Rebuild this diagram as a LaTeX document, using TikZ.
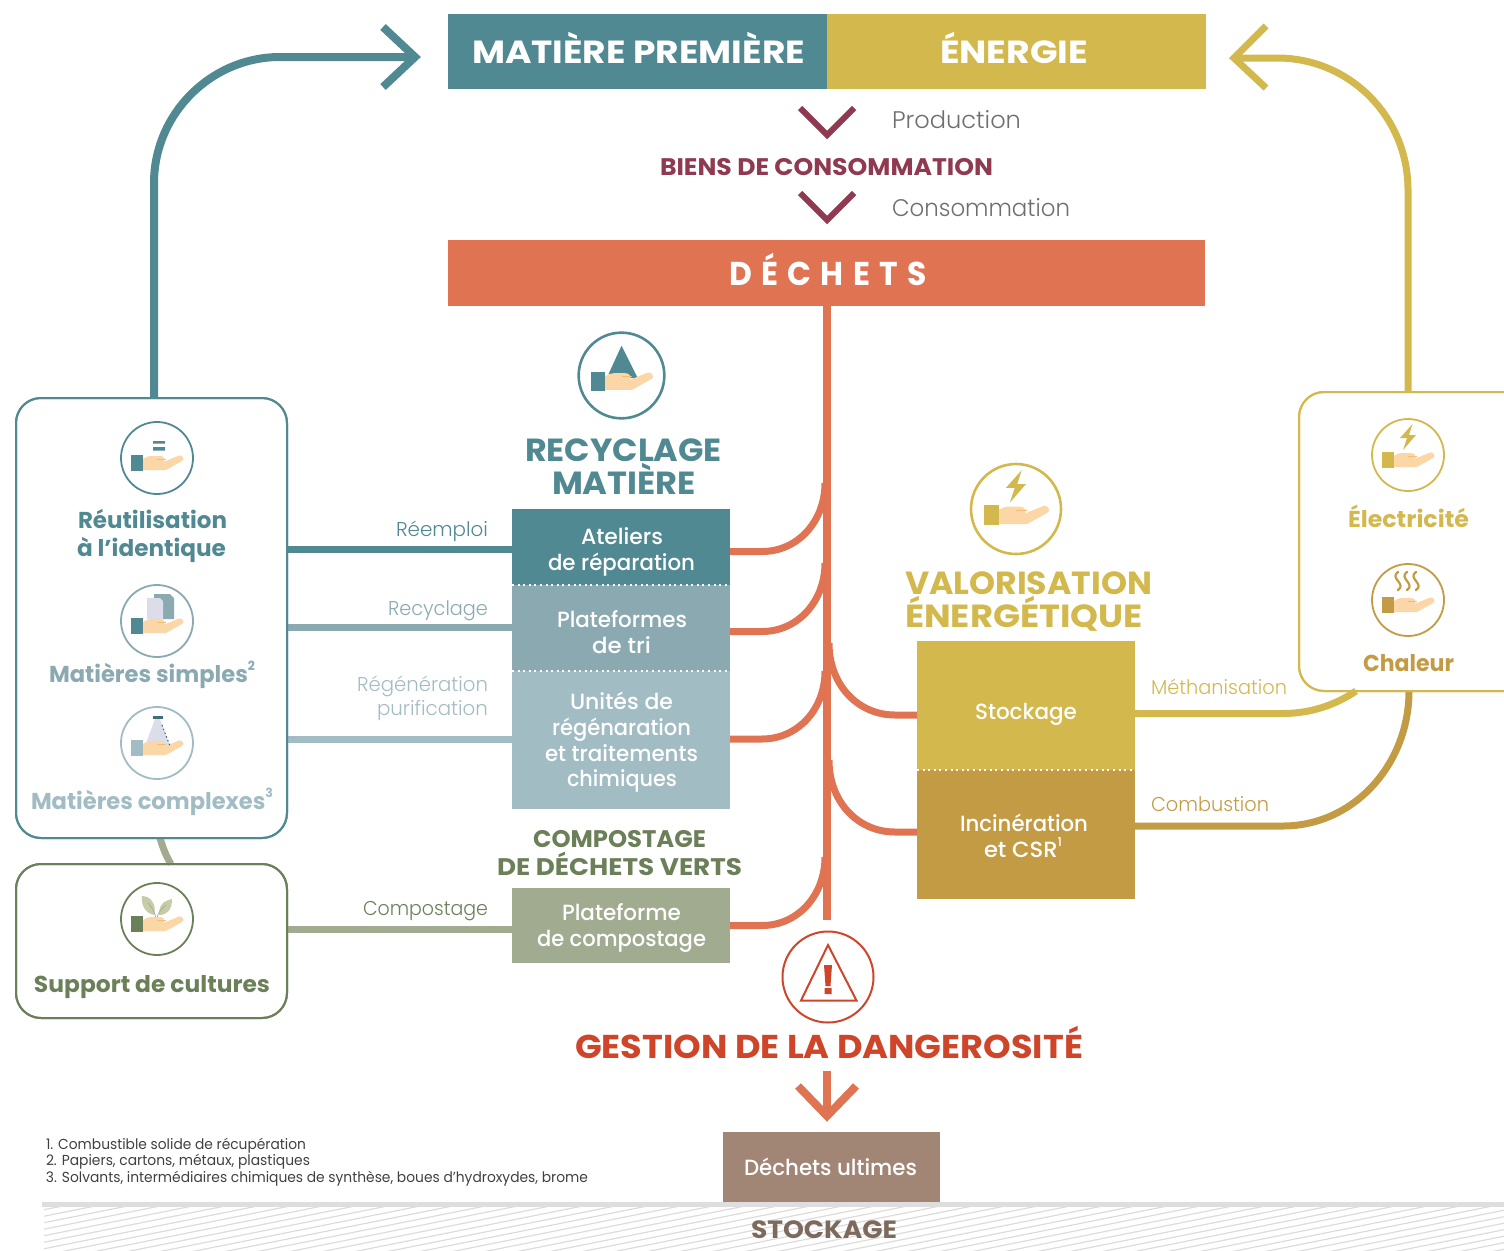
\documentclass[tikz,border=0pt]{standalone}
\usepackage{fontspec}
\usepackage{graphicx}
\setmainfont{Poppins Medium}[BoldFont={Poppins Bold}]
\newfontfamily\plight{Poppins Light}
\newfontfamily\preg{Poppins}
\usetikzlibrary{calc}
\definecolor{teal1}{HTML}{518993}
\definecolor{teal2}{HTML}{8BA9B1}
\definecolor{teal3}{HTML}{A2BCC4}
\definecolor{gold1}{HTML}{D2B84D}
\definecolor{gold2}{HTML}{C49B45}
\definecolor{orangeA}{HTML}{E07352}
\definecolor{redA}{HTML}{CE4529}
\definecolor{greenD}{HTML}{6B8059}
\definecolor{greenL}{HTML}{A0AB90}
\definecolor{brownA}{HTML}{A28675}
\definecolor{brownD}{HTML}{7E6A5C}
\definecolor{maroon}{HTML}{8F3A50}
\definecolor{grayT}{HTML}{6D6E70}
\definecolor{peach}{HTML}{FBD7A8}
\definecolor{peachD}{HTML}{F5BE6F}
\definecolor{lav}{HTML}{DCDDE8}
\definecolor{leaf}{HTML}{C5CDA8}
\newsavebox\lbox
\newcommand\fsr[1]{\fontsize{#1}{#1}\selectfont}
\newcommand\fsl[1]{\plight\fontsize{#1}{#1}\selectfont}
\newcommand\fsn[1]{\preg\fontsize{#1}{#1}\selectfont}
\newcommand\fsb[1]{\fontsize{#1}{#1}\selectfont\bfseries}
\newcommand\sups[1]{\raisebox{0.5em}{\fontsize{0.55em}{0.55em}\selectfont #1}}
% name, left, right, baseline, font, colour, text
\newcommand\lab[7]{%
  \pgfmathsetmacro\lcx{(#2+#3)/2}%
  \node[anchor=base,inner sep=0pt,text=#6] (#1) at (\lcx,#4) {\sbox\lbox{#5#7}\pgfmathsetmacro\lf{(#3-#2)/\the\wd\lbox}\scalebox{\lf}[1]{\usebox\lbox}};}
\newcommand\hand[1]{%
  \fill[peach] (-14,1) .. controls (-11,-1) and (-9,-2) .. (-6,-2) -- (3,-2) .. controls (7,-2) and (8,1) .. (7.5,3.5) -- (22,-2.5) .. controls (26,-3.5) and (28,2) .. (25,3) -- (9,12) -- (-14,12) -- cycle;
  \draw[peachD,line width=1pt] (0,1) -- (9,1);
  \fill[#1] (-26,-3) rectangle (-14,13);}
\tikzset{
  x=1pt,y=-1pt,
  band/.style={rectangle,inner sep=0pt,outer sep=0pt,minimum width=#1},
  wire/.style={line width=#1,line cap=butt},
  wire/.default=7pt,
  soft/.style={rectangle,rounded corners=25pt,fill=white,line width=2pt,inner sep=0pt,outer sep=0pt},
  ring/.style={draw=#1,line width=1.8pt,fill=white}
}
\begin{document}
\begin{tikzpicture}
\useasboundingbox (0,0) rectangle (1504,1250);
% ---- boxes
\node[band=379pt,minimum height=75pt,fill=teal1] (mp) at (637.5,51.5) {};
\node[band=379pt,minimum height=75pt,fill=gold1] (en) at (1016.5,51.5) {};
\node[band=757pt,minimum height=66pt,fill=orangeA] (de) at (826.5,273) {};
\node[soft,draw=teal1,minimum width=271pt,minimum height=440pt] (bleft) at (151.5,618) {};
\node[soft,draw=greenD,minimum width=271pt,minimum height=154pt] (bgreen) at (151.5,941) {};
\node[soft,draw=gold1,minimum width=231pt,minimum height=299pt] (bright) at (1414.5,541.5) {};
\node[band=218pt,minimum height=76pt,fill=teal1] (atel) at (621,547) {};
\node[band=218pt,minimum height=86pt,fill=teal2] (plat) at (621,628) {};
\node[band=218pt,minimum height=138pt,fill=teal3] (unit) at (621,740) {};
\node[band=218pt,minimum height=75pt,fill=greenL] (comp) at (621,925.5) {};
\node[band=218pt,minimum height=129pt,fill=gold1] (stock) at (1026,705.5) {};
\node[band=218pt,minimum height=129pt,fill=gold2] (inci) at (1026,834.5) {};
% ---- named points on the trunk and outer ends
\coordinate (tA) at (825,483);
\coordinate (tB) at (825,563);
\coordinate (tC) at (825,671);
\coordinate (tD) at (825,857);
\coordinate (tE) at (829,643);
\coordinate (tF) at (829,760);
\coordinate (trunkEnd) at (827,920);
% ---- connectors
\draw[wire=8pt,teal1] (bleft.north -| 154,0) -- (154,183) .. controls (154,114) and (211,57) .. (280,57) -- (415,57);
\draw[wire=8pt,line join=miter,teal1] (383,27) -- (415,57) -- (383,87);
\draw[wire,gold1] (bright.north -| 1408,0) -- (1408,190) .. controls (1408,117) and (1350,58) .. (1277,58) -- (1236,58);
\draw[wire,line join=miter,gold1] (1266,26) -- (1234,58) -- (1266,88);
\draw[wire=8pt,orangeA] (de.south -| trunkEnd) -- (trunkEnd);
\draw[wire,orangeA] ([yshift=-4.5pt]atel.east) -- (762,551.5) .. controls (798,551.5) and (825,521) .. (tA);
\draw[wire,orangeA] ([yshift=-3.5pt]plat.east) -- (762,631.5) .. controls (798,631.5) and (825,601) .. (tB);
\draw[wire,orangeA] ([yshift=1pt]unit.east) -- (762,739) .. controls (798,739) and (825,709) .. (tC);
\draw[wire,orangeA] (comp.east) -- (762,925.5) .. controls (798,925.5) and (825,895) .. (tD);
\draw[wire,orangeA] ([yshift=-9.5pt]stock.west) -- (895,715) .. controls (858,715) and (829,685) .. (tE);
\draw[wire,orangeA] ([yshift=2.5pt]inci.west) -- (895,832) .. controls (858,832) and (829,802) .. (tF);
\draw[wire,teal1] (bleft.east |- 0,549) -- (atel.west |- 0,549);
\draw[wire,teal2] (bleft.east |- 0,627) -- (plat.west |- 0,627);
\draw[wire,teal3] (bleft.east |- 0,739) -- (unit.west |- 0,739);
\draw[wire,greenL] (bgreen.east |- 0,929) -- (comp.west |- 0,929);
\draw[wire,greenL] (160,838) .. controls (163,848) and (166,856) .. (171,864);
\draw[wire,gold1] (stock.east |- 0,713.5) -- (1283,713.5) .. controls (1312,713.5) and (1337,704) .. (1356,691);
\draw[wire,gold2] (inci.east |- 0,826) -- (1283,826) .. controls (1353,826) and (1409,765) .. (1409,691);
\draw[wire=6pt,line join=miter,maroon] (800,108) -- (827,135) -- (854,108);
\draw[wire=6pt,line join=miter,maroon] (800,193) -- (827,220) -- (854,193);
\coordinate (arrTop) at (827,1071);
\draw[wire=8pt,orangeA] (arrTop) -- (827,1116);
\draw[wire=8pt,line join=miter,orangeA] (798,1086) -- (827,1116) -- (856,1086);
% redraw box borders over the wire ends
\draw[line width=2pt,teal1,rounded corners=25pt] (bleft.south west) rectangle (bleft.north east);
\draw[line width=2pt,greenD,rounded corners=25pt] (bgreen.south west) rectangle (bgreen.north east);
\draw[line width=2pt,gold1,rounded corners=25pt] (bright.south west) rectangle (bright.north east);
% dotted separators
\draw[white,line width=2pt,dash pattern=on 2pt off 3.6pt] (atel.south west) -- (atel.south east);
\draw[white,line width=2pt,dash pattern=on 2pt off 3.6pt] (plat.south west) -- (plat.south east);
\draw[white,line width=2pt,dash pattern=on 2pt off 3.6pt] (stock.south west) -- (stock.south east);
% ---- stockage band
\begin{scope}
\clip (44,1207) rectangle (1504,1250);
\foreach \i in {0,6.5,...,360}{
  \draw[black!14,line width=1.2pt] (30,1206+\i) -- (1520,1206+\i-298);
}
\end{scope}
\fill[black!13] (42,1202) rectangle (1504,1207);
\node[band=217pt,minimum height=70pt,fill=brownA] (ult) at (831.5,1167) {};
% ---- icons
\begin{scope}[shift={(157,458)}]
\draw[ring=teal1] (0,0) circle (36);
\fill[teal1] (-4,-17) rectangle (8,-14.5) (-4,-11) rectangle (8,-7.5);
\hand{teal1}
\end{scope}
\begin{scope}[shift={(157,621)}]
\draw[ring=teal2] (0,0) circle (36);
\fill[teal2] (-3,-27) -- (13,-27) -- (17,-23) -- (17,-2) -- (-3,-2) -- cycle;
\fill[lav] (-10,-23) -- (3,-23) -- (6,-20) -- (6,-2) -- (-10,-2) -- cycle;
\hand{teal1}
\end{scope}
\begin{scope}[shift={(157,743)}]
\draw[ring=teal3] (0,0) circle (36);
\fill[lav] (-2,-24) -- (3,-24) -- (13,3) -- (-12,3) -- cycle;
\fill[teal1!80!black] (-4,-27) rectangle (6,-24);
\hand{teal3}
\draw[teal1!70!black,line width=1pt,dash pattern=on 1.5pt off 2.5pt] (5,-18) -- (13,3);
\end{scope}
\begin{scope}[shift={(157,919)}]
\draw[ring=greenD] (0,0) circle (36);
\fill[leaf] (-3,-4) .. controls (-12,-6) and (-16,-14) .. (-15,-23) .. controls (-6,-23) and (0,-14) .. (-3,-4) -- cycle;
\fill[leaf] (2,-4) .. controls (2,-14) and (6,-18) .. (15,-20) .. controls (15,-10) and (11,-4) .. (2,-4) -- cycle;
\draw[greenL,line width=0.7pt] (-1,-1) .. controls (-2,-6) and (-5,-12) .. (-9,-16);
\draw[greenL,line width=0.7pt] (0,-1) .. controls (1,-6) and (4,-10) .. (9,-14);
\hand{greenD}
\end{scope}
\begin{scope}[shift={(1408,455)}]
\draw[ring=gold1] (0,0) circle (36);
\fill[gold1] (4.5,-31) -- (-8,-17) -- (-1,-17) -- (-5,-5) -- (8,-20) -- (1,-20) -- cycle;
\hand{gold1}
\end{scope}
\begin{scope}[shift={(1408,600)}]
\draw[ring=gold2] (0,0) circle (36);
\foreach \v in {-10,-1,8}{
  \draw[gold2,line width=2.2pt,line cap=round] (\v,-28) .. controls (\v-9,-22) and (\v+9,-16) .. (\v,-10);
}
\hand{gold2}
\end{scope}
\begin{scope}[shift={(621.5,375.5)},scale=1.19]
\draw[teal1,line width=2.6pt,fill=white] (0,0) circle (36);
\fill[teal1] (0,-25) -- (-11,-1) -- (14,3) -- cycle;
\hand{teal1}
\end{scope}
\begin{scope}[shift={(1016,509)},scale=1.25]
\draw[gold1,line width=2.6pt,fill=white] (0,0) circle (36);
\fill[gold1] (4.5,-31) -- (-8,-17) -- (-1,-17) -- (-5,-5) -- (8,-20) -- (1,-20) -- cycle;
\hand{gold1}
\end{scope}
% danger icon
\node[circle,draw=redA,line width=2pt,minimum size=91pt,inner sep=0pt] (hz) at (828,977) {};
\draw[redA,line width=2pt,line join=miter] (828,945) -- (801,1000.5) -- (856.5,1000.5) -- cycle;
\fill[redA] (824,965) -- (832,965) -- (830.5,986) -- (825.5,986) -- cycle (824.5,988) rectangle (831.5,994);
% ---- texts
\lab{t1}{472}{805}{63}{\fsb{32}}{white}{MATIÈRE PREMIÈRE}
\lab{t2}{940}{1088}{63}{\fsb{32}}{white}{ÉNERGIE}
\lab{t3}{892}{1021}{128}{\fsl{24}}{grayT}{Production}
\lab{t4}{660}{993}{175}{\fsb{24}}{maroon}{BIENS DE CONSOMMATION}
\lab{t5}{892}{1070}{216}{\fsl{24}}{grayT}{Consommation}
\lab{t6}{729}{927}{285}{\fsb{33}\addfontfeature{LetterSpace=30}}{white}{DÉCHETS}
\lab{t7}{525}{722}{461}{\fsb{32}}{teal1}{RECYCLAGE}
\lab{t8}{552}{696}{494}{\fsb{32}}{teal1}{MATIÈRE}
\lab{t9}{905}{1152}{594}{\fsb{32}}{gold1}{VALORISATION}
\lab{t10}{905}{1143}{627}{\fsb{32}}{gold1}{ÉNERGÉTIQUE}
\lab{t11}{581}{663}{544}{\fsr{22}}{white}{Ateliers}
\lab{t12}{548}{695}{570}{\fsr{22}}{white}{de réparation}
\lab{t13}{557}{687}{627}{\fsr{22}}{white}{Plateformes}
\lab{t14}{592}{651}{653}{\fsr{22}}{white}{de tri}
\lab{t15}{570}{673}{709}{\fsr{22}}{white}{Unités de}
\lab{t16}{552}{691}{735}{\fsr{22}}{white}{régénaration}
\lab{t17}{545}{698}{761}{\fsr{22}}{white}{et traitements}
\lab{t18}{567}{677}{786}{\fsr{22}}{white}{chimiques}
\lab{t19}{533}{706}{847}{\fsb{24}}{greenD}{COMPOSTAGE}
\lab{t20}{497}{742}{875}{\fsb{24}}{greenD}{DE DÉCHETS VERTS}
\lab{t21}{562}{681}{920}{\fsr{22}}{white}{Plateforme}
\lab{t22}{537}{706}{946}{\fsr{22}}{white}{de compostage}
\lab{t23}{975}{1077}{719}{\fsr{22}}{white}{Stockage}
\lab{t24}{960}{1088}{831}{\fsr{22}}{white}{Incinération}
\lab{t25}{984}{1062}{857}{\fsr{22}}{white}{et CSR\sups{1}}
\lab{t26}{396}{488}{536}{\fsl{20}}{teal1}{Réemploi}
\lab{t27}{388}{488}{615}{\fsl{20}}{teal2}{Recyclage}
\lab{t28}{357}{488}{691}{\fsl{20}}{teal3}{Régénération}
\lab{t29}{377}{488}{715}{\fsl{20}}{teal3}{purification}
\lab{t30}{363}{488}{915}{\fsl{20}}{greenD}{Compostage}
\lab{t31}{1151}{1287}{694}{\fsl{20}}{gold1}{Méthanisation}
\lab{t32}{1151}{1269}{811}{\fsl{20}}{gold2}{Combustion}
\lab{t33}{78}{227}{528}{\fsb{23}}{teal1}{Réutilisation}
\lab{t34}{77}{226}{556}{\fsb{23}}{teal1}{à l’identique}
\lab{t35}{49}{255}{682}{\fsb{23}}{teal2}{Matières simples\sups{2}}
\lab{t36}{31}{273}{809}{\fsb{23}}{teal3}{Matières complexes\sups{3}}
\lab{t37}{34}{270}{992}{\fsb{23}}{greenD}{Support de cultures}
\lab{t38}{1348}{1469}{527}{\fsb{23}}{gold1}{Électricité}
\lab{t39}{1363}{1454}{671}{\fsb{23}}{gold2}{Chaleur}
\lab{t40}{575}{1083}{1058}{\fsb{33}}{redA}{GESTION DE LA DANGEROSITÉ}
\lab{t41}{744}{917}{1175}{\fsr{22}}{white}{Déchets ultimes}
\lab{t42}{751}{897}{1238}{\fsb{25}}{brownD}{STOCKAGE}
\lab{t43}{46}{306}{1149}{\fsn{14.5}}{black!75}{1. Combustible solide de récupération}
\lab{t44}{46}{310}{1165}{\fsn{14.5}}{black!75}{2. Papiers, cartons, métaux, plastiques}
\lab{t45}{46}{588}{1182}{\fsn{14.5}}{black!75}{3. Solvants, intermédiaires chimiques de synthèse, boues d’hydroxydes, brome}
\end{tikzpicture}
\end{document}
